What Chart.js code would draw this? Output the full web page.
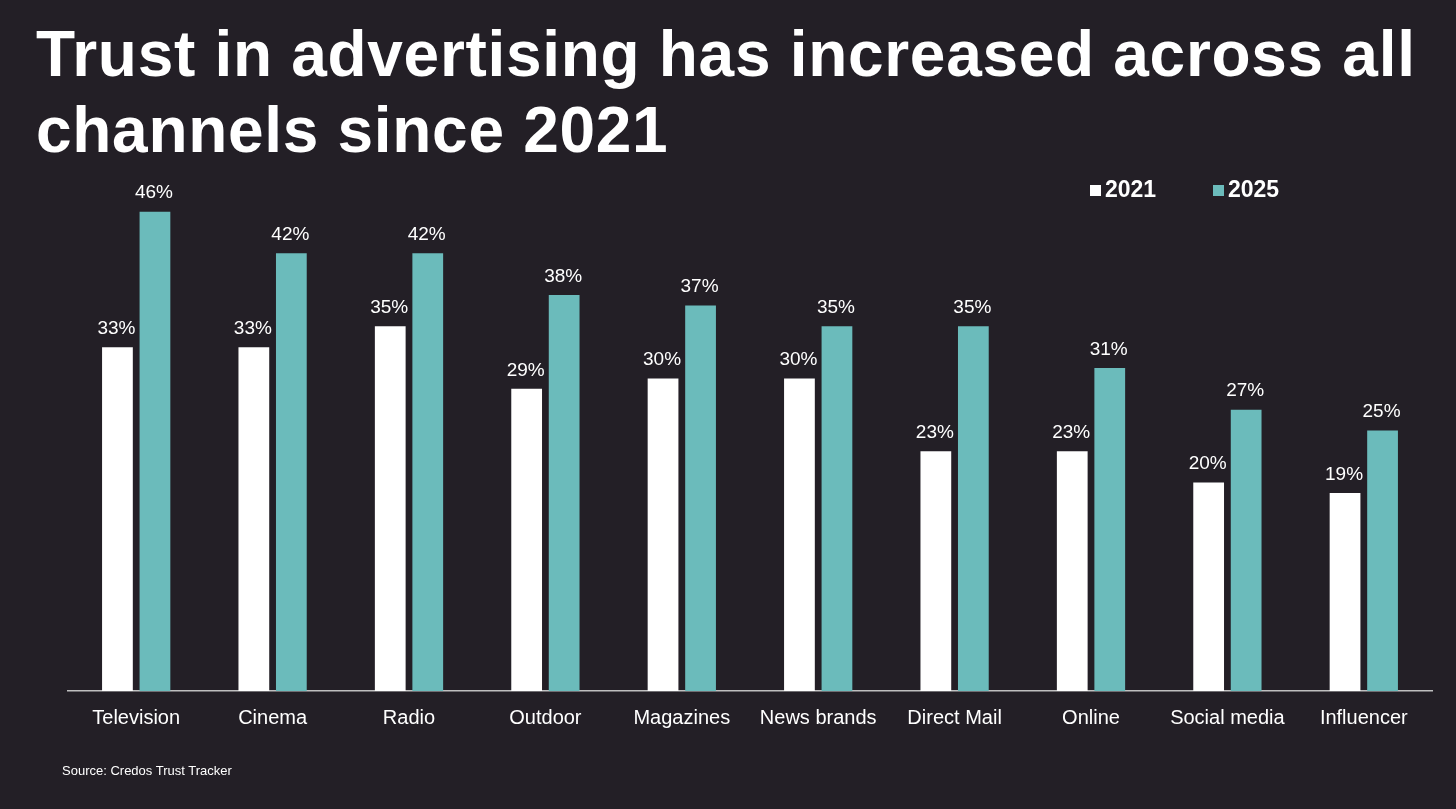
<!DOCTYPE html>
<html>
<head>
<meta charset="utf-8">
<script src="https://cdn.jsdelivr.net/npm/chart.js@4"></script>
<style>
  html, body { margin: 0; padding: 0; background: #231f26; overflow: hidden; }
  #title { position: absolute; left: 36px; top: 16px; color: #ffffff; font: bold 64px "Liberation Sans", Arial, sans-serif; line-height: 76px; letter-spacing: 0.7px; }
  #source { position: absolute; left: 62px; top: 763px; color: #ffffff; font: 13px "Liberation Sans", Arial, sans-serif; }
  #wrap { position: absolute; left: 0; top: 0; width: 1456px; height: 809px; }
</style>
</head>
<body>
<div id="wrap"><canvas id="trustChart"></canvas></div>
<div id="title">Trust in advertising has increased across all<br>channels since 2021</div>
<div id="source">Source: Credos Trust Tracker</div>
<script>
const chartData = {
    labels: ['Television', 'Cinema', 'Radio', 'Outdoor', 'Magazines', 'News brands', 'Direct Mail', 'Online', 'Social media', 'Influencer'],
    y2021: [33, 33, 35, 29, 30, 30, 23, 23, 20, 19],
    y2025: [46, 42, 42, 38, 37, 35, 35, 31, 27, 25]
};

// labels above bars + legend drawn by hand
const labelPlugin = {
    id: 'labelPlugin',
    afterDatasetsDraw(chart) {
        const ctx = chart.ctx;
        ctx.save();
        ctx.fillStyle = '#ffffff';
        ctx.font = '19px "Liberation Sans", Arial, sans-serif';
        ctx.textAlign = 'center';
        ctx.textBaseline = 'bottom';
        chart.data.datasets.forEach((ds, i) => {
            chart.getDatasetMeta(i).data.forEach((bar, j) => {
                ctx.fillText(ds.data[j] + '%', bar.x - 1, bar.y - 9);
            });
        });
        // legend
        ctx.textAlign = 'left';
        ctx.textBaseline = 'middle';
        ctx.font = 'bold 23px "Liberation Sans", Arial, sans-serif';
        const items = [['2021', '#ffffff', 1090], ['2025', '#6bbbbb', 1213]];
        items.forEach(([t, c, x]) => {
            ctx.fillStyle = c;
            ctx.fillRect(x, 185, 11, 11);
            ctx.fillStyle = '#ffffff';
            ctx.fillText(t, x + 15, 191);
        });
        ctx.restore();
    }
};

new Chart(document.getElementById('trustChart').getContext('2d'), {
    type: 'bar',
    data: {
        labels: chartData.labels,
        datasets: [
            { label: '2021', data: chartData.y2021, backgroundColor: '#ffffff' },
            { label: '2025', data: chartData.y2025, backgroundColor: '#6bbbbb' }
        ]
    },
    options: {
        responsive: true,
        maintainAspectRatio: false,
        animation: false,
        datasets: { bar: { categoryPercentage: 0.55, barPercentage: 0.82 } },
        layout: { padding: { top: 170, left: 68, right: 24, bottom: 72 } },
        plugins: { legend: { display: false }, tooltip: { enabled: false } },
        scales: {
            x: {
                grid: { display: false },
                border: { color: '#bfbfbf', width: 1.5 },
                ticks: { color: '#ffffff', font: { size: 20, family: '"Liberation Sans", Arial, sans-serif' }, padding: 7, maxRotation: 0 }
            },
            y: { display: false, min: 0, max: 50 }
        }
    },
    plugins: [labelPlugin]
});
</script>
</body>
</html>
